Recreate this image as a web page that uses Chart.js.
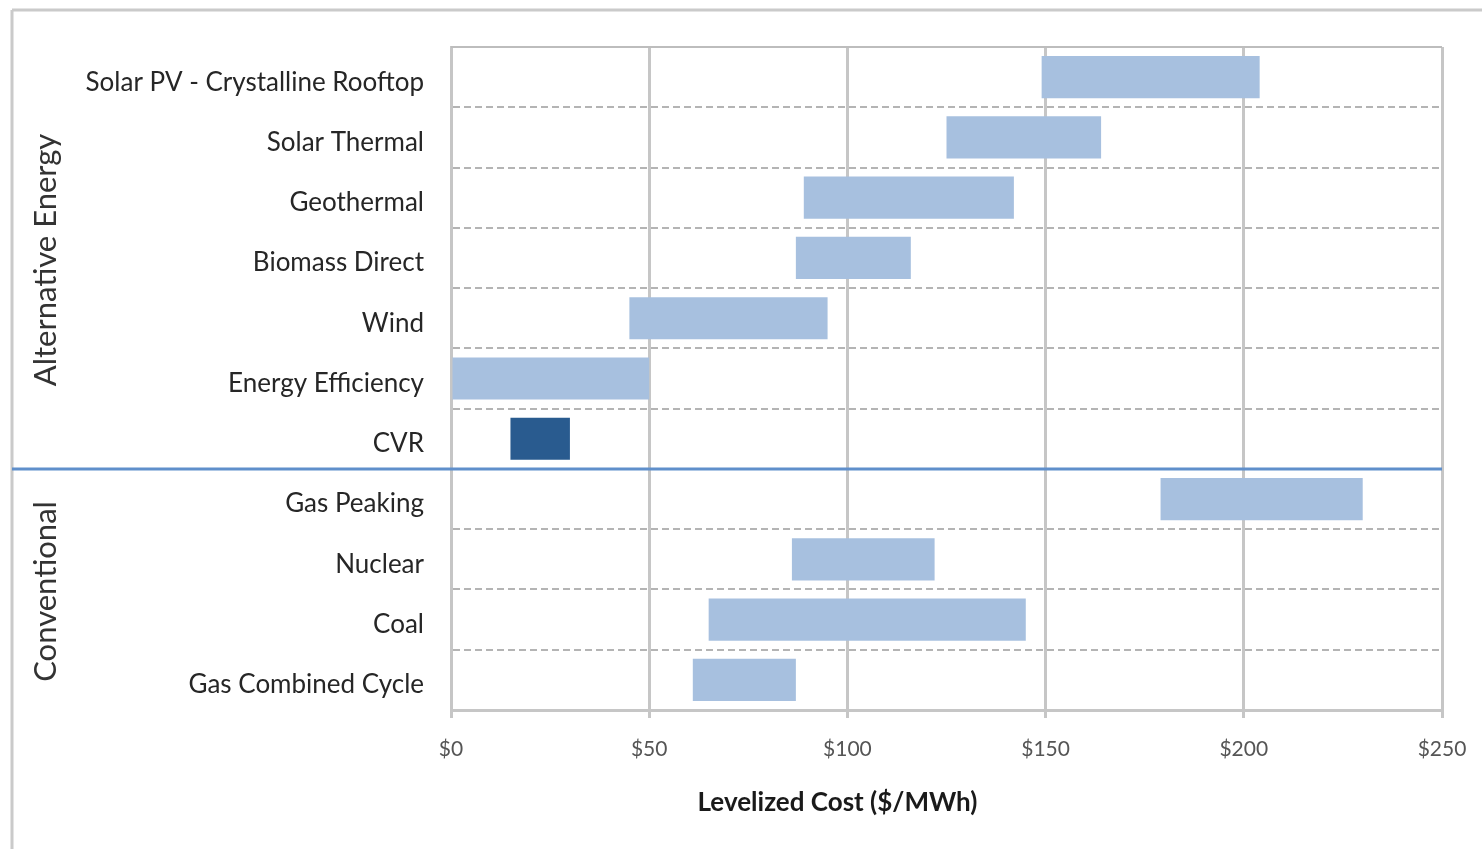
<!DOCTYPE html>
<html>
<head>
<meta charset="utf-8">
<script src="https://cdn.jsdelivr.net/npm/chart.js@4/dist/chart.umd.min.js"></script>
<style>
  html, body { margin: 0; padding: 0; background: #ffffff; overflow: hidden; }
  #wrap { position: relative; width: 1482px; height: 849px; }
</style>
</head>
<body>
<div id="wrap"><canvas id="cost" width="1482" height="849"></canvas></div>
<script>
// Generation resources, grouped by kind
const alternativeSources = ['Solar PV - Crystalline Rooftop', 'Solar Thermal', 'Geothermal', 'Biomass Direct', 'Wind', 'Energy Efficiency', 'CVR'];
const conventionalSources = ['Gas Peaking', 'Nuclear', 'Coal', 'Gas Combined Cycle'];
const categories = alternativeSources.concat(conventionalSources);

// Levelized cost range, $/MWh
const lowCost  = [149, 125, 89, 87, 45, 0, 15, 179, 86, 65, 61];
const highCost = [204, 164, 142, 116, 95, 50, 30, 230, 122, 145, 87];

const costTicks = [0, 50, 100, 150, 200, 250];
const groupLabels = ['Alternative Energy', 'Conventional'];
const axisTitle = 'Levelized Cost ($/MWh)';
const highlightedSource = 'CVR';

const LABEL_FONT = 'Lato, "Open Sans", sans-serif';
const LIGHT_BAR = '#a7c0df';
const DARK_BAR = '#295b8f';
const GRID = '#c6c6c6';

const ranges = categories.map((c, i) => [lowCost[i], highCost[i]]);

// Frame, plot outline, group divider, group labels and axis title
const decorations = {
  id: 'decorations',
  beforeDraw(chart) {
    const ctx = chart.ctx;
    ctx.save();
    ctx.strokeStyle = '#cacaca';
    ctx.lineWidth = 3;
    ctx.beginPath();
    ctx.moveTo(12, 10);
    ctx.lineTo(chart.width, 10);
    ctx.moveTo(12, 10);
    ctx.lineTo(12, chart.height);
    ctx.stroke();
    ctx.restore();
  },
  afterDraw(chart) {
    const ctx = chart.ctx;
    const area = chart.chartArea;
    const x = chart.scales.x;
    const y = chart.scales.y;
    ctx.save();

    // top outline of the plot
    ctx.strokeStyle = '#bdbdbd';
    ctx.lineWidth = 2;
    ctx.beginPath();
    ctx.moveTo(area.left, area.top);
    ctx.lineTo(area.right, area.top);
    ctx.stroke();

    // divider between alternative and conventional resources
    const nAlt = alternativeSources.length;
    const divY = (y.getPixelForValue(nAlt - 1) + y.getPixelForValue(nAlt)) / 2;
    ctx.strokeStyle = '#5f8fcb';
    ctx.lineWidth = 3;
    ctx.beginPath();
    ctx.moveTo(12, divY);
    ctx.lineTo(area.right, divY);
    ctx.stroke();

    // rotated group labels
    ctx.fillStyle = '#333333';
    ctx.font = '31px ' + LABEL_FONT;
    ctx.textAlign = 'center';
    ctx.textBaseline = 'middle';
    const groups = [[0, nAlt - 1], [nAlt, categories.length - 1]];
    groups.forEach((g, i) => {
      const top = (g[0] === 0) ? area.top : (y.getPixelForValue(g[0] - 1) + y.getPixelForValue(g[0])) / 2;
      const bottom = (g[1] === categories.length - 1) ? area.bottom : (y.getPixelForValue(g[1]) + y.getPixelForValue(g[1] + 1)) / 2;
      ctx.save();
      ctx.translate(46, (top + bottom) / 2 + 2);
      ctx.rotate(-Math.PI / 2);
      ctx.fillText(groupLabels[i], 0, 0);
      ctx.restore();
    });

    // x axis title
    ctx.fillStyle = '#1a1a1a';
    ctx.font = 'bold 26px ' + LABEL_FONT;
    ctx.fillText(axisTitle, x.getPixelForValue(97.5), 803);
    ctx.restore();
  }
};

new Chart(document.getElementById('cost'), {
  type: 'bar',
  data: {
    labels: categories,
    datasets: [{
      data: ranges,
      backgroundColor: categories.map(c => c === highlightedSource ? DARK_BAR : LIGHT_BAR),
      borderWidth: 0,
      borderSkipped: false,
      barPercentage: 0.7,
      categoryPercentage: 1.0
    }]
  },
  options: {
    indexAxis: 'y',
    responsive: false,
    animation: false,
    layout: { padding: { top: 47, right: 40, bottom: 0, left: 0 } },
    plugins: {
      legend: { display: false },
      tooltip: { enabled: false }
    },
    scales: {
      x: {
        type: 'linear',
        min: costTicks[0],
        max: costTicks[costTicks.length - 1],
        afterBuildTicks(scale) { scale.ticks = costTicks.map(v => ({ value: v })); },
        afterFit(scale) {
          scale.height = 139;
          scale.paddingLeft = 0;
          scale.paddingRight = 0;
        },
        grid: { color: GRID, lineWidth: 3, tickLength: 8, drawTicks: true },
        border: { display: true, color: GRID, width: 3 },
        ticks: {
          color: '#555555',
          font: { family: LABEL_FONT, size: 21 },
          padding: 19,
          callback: v => '$' + v
        }
      },
      y: {
        type: 'category',
        offset: true,
        afterFit(scale) {
          scale.width = 451;
          scale.paddingTop = 0;
          scale.paddingBottom = 0;
        },
        grid: {
          offset: true,
          color: '#b4b4b4',
          lineWidth: 2,
          tickLength: 0
        },
        border: { display: true, color: GRID, width: 3, dash: [7, 4] },
        ticks: {
          color: '#262626',
          font: { family: LABEL_FONT, size: 26 },
          padding: 27,
          labelOffset: 5
        }
      }
    }
  },
  plugins: [decorations]
});
</script>
</body>
</html>
